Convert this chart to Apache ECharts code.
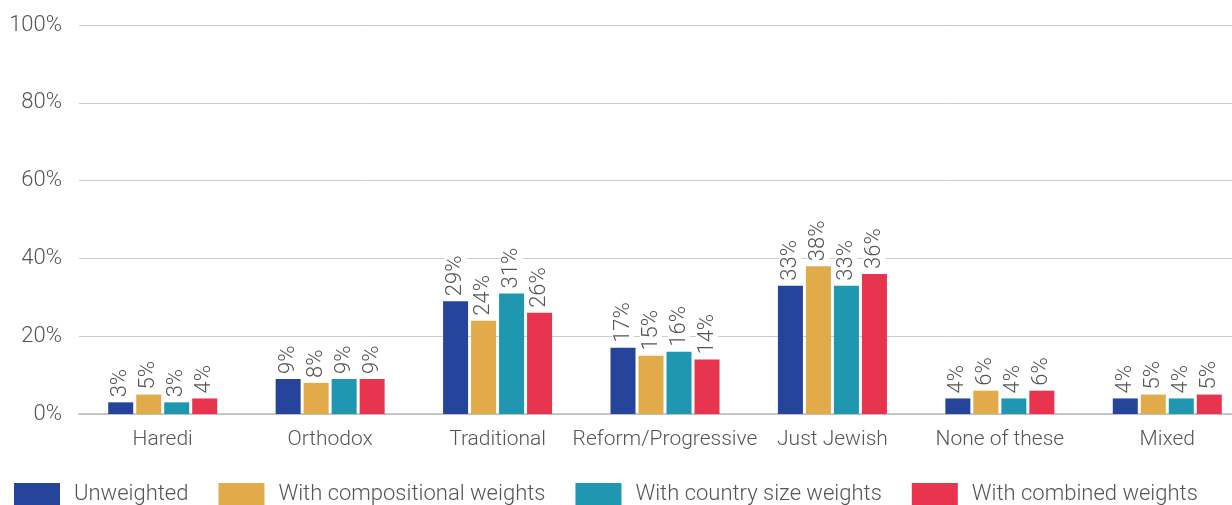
<!DOCTYPE html>
<html>
<head>
<meta charset="utf-8">
<script src="https://cdn.jsdelivr.net/npm/echarts@6/dist/echarts.min.js"></script>
<style>
  html,body{margin:0;padding:0;background:#fff;}
  #chart{width:1232px;height:505px;}
</style>
</head>
<body>
<div id="chart"></div>
<script>
  // 分类与数据
  var categories=["Haredi","Orthodox","Traditional","Reform/Progressive","Just Jewish","None of these","Mixed"];
  var unweighted=[3,9,29,17,33,4,4];
  var compositional=[5,8,24,15,38,6,5];
  var countrySize=[3,9,31,16,33,4,4];
  var combined=[4,9,26,14,36,6,5];
  var seriesNames=["Unweighted","With compositional weights","With country size weights","With combined weights"];
  var colors=["#26449a","#e1ab4a","#1f97b0","#e8344f"];

  var fontFamily="Roboto, 'Noto Sans', sans-serif";
  var textColor="#555";
  var fontSize=22;

  var makeSeries=function(name,data,color){
    return {
      name:name,
      type:"bar",
      data:data,
      barWidth:25,
      barGap:"12%",
      itemStyle:{color:color},
      label:{
        show:true,
        position:"top",
        rotate:90,
        align:"left",
        verticalAlign:"middle",
        distance:4,
        formatter:"{c}%",
        fontSize:fontSize,
        fontWeight:300,
        fontFamily:fontFamily,
        color:textColor,
        backgroundColor:"#fff",
        padding:[0,1,0,1]
      }
    };
  };

  var chart=echarts.init(document.getElementById("chart"));
  chart.setOption({
    animation:false,
    color:colors,
    // 坐标区右端超出画布
    grid:{left:79,width:1172,top:25,height:389,containLabel:false,outerBoundsMode:"none"},
    legend:{
      bottom:0,
      left:14,
      padding:0,
      itemWidth:46,
      itemHeight:22,
      itemGap:30,
      icon:"rect",
      textStyle:{fontSize:fontSize,fontWeight:300,fontFamily:fontFamily,color:textColor,padding:[0,0,0,9]},
      data:seriesNames
    },
    xAxis:{
      type:"category",
      data:categories,
      axisLine:{lineStyle:{color:"#bbb",width:1.5}},
      axisTick:{show:false},
      axisLabel:{interval:0,fontSize:21,fontWeight:300,fontFamily:fontFamily,color:textColor,margin:15}
    },
    yAxis:{
      type:"value",
      min:0,
      max:100,
      interval:20,
      axisLine:{show:false},
      axisTick:{show:false},
      splitLine:{lineStyle:{color:"#ccc",width:1}},
      axisLabel:{formatter:"{value}%",fontSize:fontSize,fontWeight:300,fontFamily:fontFamily,color:textColor,margin:17}
    },
    series:[
      makeSeries(seriesNames[0],unweighted,colors[0]),
      makeSeries(seriesNames[1],compositional,colors[1]),
      makeSeries(seriesNames[2],countrySize,colors[2]),
      makeSeries(seriesNames[3],combined,colors[3])
    ]
  });
</script>
</body>
</html>
